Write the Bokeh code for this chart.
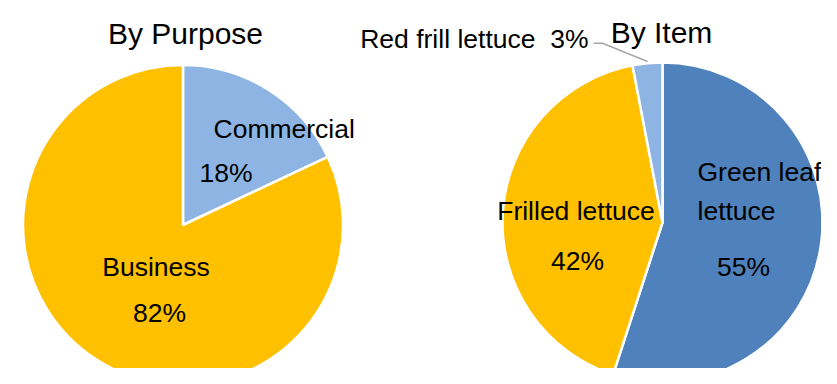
import numpy as np
from bokeh.plotting import figure
from bokeh.models import Range1d, ColumnDataSource
from bokeh.core.properties import value
from bokeh.embed import file_html
from bokeh.resources import INLINE

# ---- data ----
purpose_cats = ["Commercial", "Business"]
purpose_vals = [18, 82]
purpose_colors = ["#8EB4E3", "#FFC000"]

item_cats = ["Green leaf lettuce", "Frilled lettuce", "Red frill lettuce"]
item_vals = [55, 42, 3]
item_colors = ["#4F81BD", "#FFC000", "#8EB4E3"]

titles = ["By Purpose", "By Item"]

W, H = 821, 368
p = figure(width=W, height=H, output_backend="svg", toolbar_location=None,
           x_range=Range1d(0, W), y_range=Range1d(0, H),
           min_border=0)
p.axis.visible = False
p.grid.visible = False
p.outline_line_color = None
p.background_fill_color = "white"
p.border_fill_color = "white"


def sy(y):
    # picture y (from top) -> data y
    return H - y


def wedges(vals, colors, cx, cy, r):
    total = float(sum(vals))
    cum = np.cumsum([0] + list(vals)) / total
    start = [np.pi / 2 - 2 * np.pi * cum[i + 1] for i in range(len(vals))]
    end = [np.pi / 2 - 2 * np.pi * cum[i] for i in range(len(vals))]
    src = ColumnDataSource(dict(x=[cx] * len(vals), y=[sy(cy)] * len(vals),
                                start=start, end=end, color=colors))
    p.wedge(x="x", y="y", radius=r, start_angle="start", end_angle="end",
            fill_color="color", line_color="white", line_width=2.5, source=src)


wedges(purpose_vals, purpose_colors, 182.5, 224.5, 160)
wedges(item_vals, item_colors, 662, 222, 160)

label_font = value("Liberation Sans")
LS = "26.5px"


def txt(x, y, s, size=LS, align="left", font=label_font):
    p.text(x=[x], y=[sy(y)], text=[s], text_font=font, text_font_size=size,
           text_align=align, text_baseline="alphabetic", text_color="black")


# titles
txt(185, 33, titles[0], size="30px", align="center")
txt(661, 32, titles[1], size="30px", align="center")

# left pie labels
txt(213, 128, purpose_cats[0])
txt(199, 172.5, f"{purpose_vals[0]}%")
txt(155.5, 266.5, purpose_cats[1], align="center")
txt(159, 312.5, f"{purpose_vals[1]}%", align="center")

# right pie labels
txt(697, 171.5, "Green leaf")
txt(697, 210, "lettuce")
txt(743, 266.5, f"{item_vals[0]}%", align="center")
txt(575.5, 210, item_cats[1], align="center")
txt(577, 260, f"{item_vals[1]}%", align="center")
txt(588, 38.5, f"{item_cats[2]}\u00a0 {item_vals[2]}%", align="right")

# leader line for small slice
p.line(x=[593, 602, 647], y=[sy(42.7), sy(42.7), sy(61)],
       line_color="#A6A6A6", line_width=1.5)

open("out.html", "w").write(file_html(p, INLINE))
